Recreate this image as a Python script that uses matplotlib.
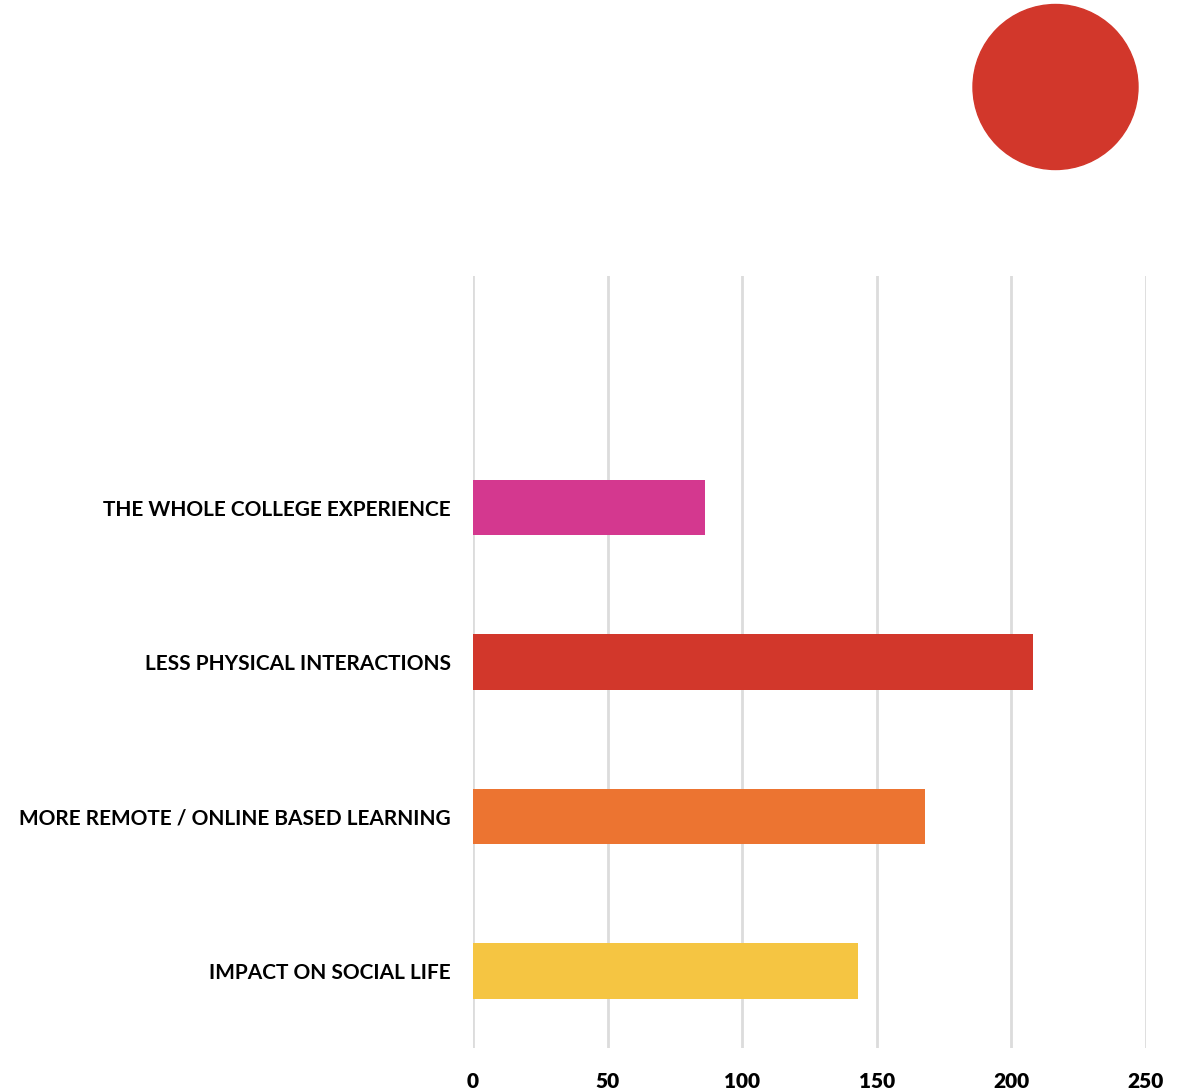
import matplotlib.pyplot as plt
from matplotlib.patches import Ellipse

# bar chart data (top slot is left empty)
categories = ["IMPACT ON SOCIAL LIFE", "MORE REMOTE / ONLINE BASED LEARNING",
              "LESS PHYSICAL INTERACTIONS", "THE WHOLE COLLEGE EXPERIENCE", ""]
values = [143, 168, 208, 86, 0]
colors = ["#F5C542", "#EC7431", "#D2372B", "#D4388F", "#FFFFFF"]
xticks = [0, 50, 100, 150, 200, 250]

plt.rcParams['font.family'] = ['Lato', 'DejaVu Sans']

W, H = 1190, 1091
fig = plt.figure(figsize=(W / 100, H / 100), dpi=100)
ax = fig.add_axes([473 / W, 43 / H, (1146 - 473) / W, (1048 - 276) / H])

pos = list(range(len(categories)))
ax.barh(pos, values, height=0.36, color=colors, zorder=3)
ax.set_xlim(0, 250)
ax.set_ylim(-0.5, len(categories) - 0.5)
ax.set_xticks(xticks)
ax.set_xticklabels([str(t) for t in xticks], fontsize=15, fontweight='heavy')
ax.set_yticks(pos)
ax.set_yticklabels(categories, fontsize=15, fontweight='bold')
ax.tick_params(axis='both', length=0)
ax.tick_params(axis='y', pad=16)
ax.tick_params(axis='x', pad=17)
ax.grid(axis='x', color='#DCDCDC', linewidth=2, zorder=0)
for s in ax.spines.values():
    s.set_visible(False)

# red dot in the top right corner
r = 82.5
fig.patches.append(Ellipse((1055.5 / W, 1 - 87 / H), 2 * r / W, 2 * r / H,
                           transform=fig.transFigure, color='#D2372B'))

fig.savefig("out.png", dpi=100)
